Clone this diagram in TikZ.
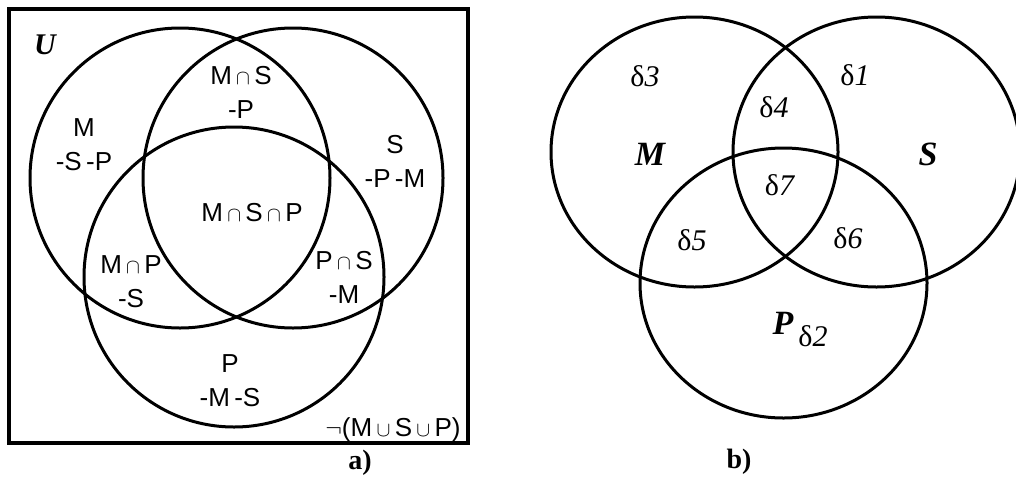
\documentclass[tikz,border=0pt]{standalone}
\usepackage{fontspec}
\setmainfont{Liberation Serif}
\newfontfamily\arialfont{Liberation Sans}
\usetikzlibrary{positioning}

\newcommand{\scap}{\,{\fontsize{20}{20}\selectfont$\cap$}\,}
\newcommand{\scup}{\,{\fontsize{20}{20}\selectfont$\cup$}\,}

\begin{document}
\begin{tikzpicture}[
  x=1pt, y=-1pt,
  set/.style={line width=3pt},
  region/.style={
    font=\arialfont\fontsize{26}{34}\selectfont,
    align=center,
    inner sep=0pt
  },
  delta/.style={font=\fontsize{30}{32}\selectfont, inner sep=0pt},
  setname/.style={font=\bfseries\itshape\fontsize{34}{36}\selectfont, inner sep=0pt},
  caption/.style={font=\bfseries\fontsize{28}{30}\selectfont, inner sep=0pt}
]
\useasboundingbox (0,0) rectangle (1016,477);

% a) universe with the three sets
\draw[line width=3.3pt] (9,9) rectangle (468,443);
\draw[set] (180,178) circle[radius=150pt];
\draw[set] (293,178) circle[radius=150pt];
\draw[set] (234,277) circle[radius=150pt];

\node[font=\bfseries\itshape\fontsize{30}{32}\selectfont, inner sep=0pt] (u) at (45,45) {U};
\node[region] (ma) at (84,145) {M\\-S\,-P};
\node[region] (msa) at (241,92) {M\scap S\\-P};
\node[region] (sa) at (395,161) {S\\-P\,-M};
\node[region] (mspa) at (252,213) {M\scap S\scap P};
\node[region] (mpa) at (131,282) {M\scap P\\-S};
\node[region] (psa) at (344,277) {P\scap S\\-M};
\node[region] (pa) at (230,381) {P\\-M\,-S};
\node[region] (rest) at (393,430) {$\neg$(M\scup S\scup P)};
\node[caption] (capa) at (360,463) {a)};

% b) the seven parts
\draw[set] (694.5,152) ellipse[x radius=143.5pt, y radius=135pt];
\draw[set] (876.5,152) ellipse[x radius=143.5pt, y radius=135pt];
\draw[set] (783.5,283) ellipse[x radius=143.5pt, y radius=135pt];

\node[setname] (mb) at (650,154) {M};
\node[setname] (sb) at (928,154) {S};
\node[setname] (pb) at (783,323) {P};
\node[delta] (d1) at (855,75) {δ\textit{1}};
\node[delta] (d2) at (813,336) {δ\textit{2}};
\node[delta] (d3) at (645,76) {δ\textit{3}};
\node[delta] (d4) at (774,107) {δ\textit{4}};
\node[delta] (d5) at (692,240) {δ\textit{5}};
\node[delta] (d6) at (848,238) {δ\textit{6}};
\node[delta] (d7) at (780,185) {δ\textit{7}};
\node[caption] (capb) at (739,462) {b)};
\end{tikzpicture}
\end{document}
